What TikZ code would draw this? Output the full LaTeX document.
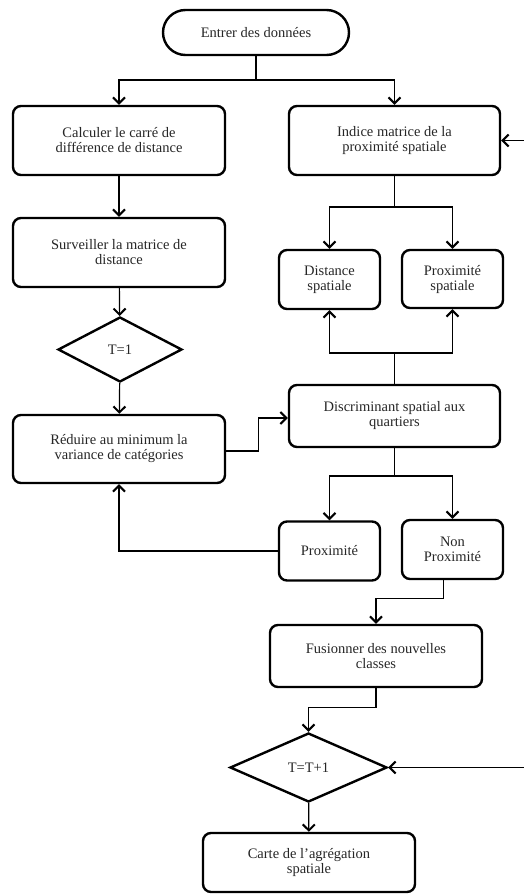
\documentclass[tikz,border=0pt]{standalone}
\usepackage{fontspec}
\setmainfont{Liberation Serif}
\usetikzlibrary{arrows.meta,shapes.geometric,shapes.misc}
\begin{document}
\begin{tikzpicture}[x=1pt,y=-1pt,
  txt/.style={text=black!85,font=\fontsize{14.5}{15}\selectfont},
  box/.style={draw,line width=2.4pt,rounded corners=8pt,align=center,inner sep=0pt,txt},
  dec/.style={draw,diamond,line width=2.4pt,aspect=2,inner sep=0pt,txt},
  ln/.style={line width=1.2pt},
  arr/.style={line width=1.2pt,-{Straight Barb[length=6pt,width=12pt,line width=2pt]}}]
\useasboundingbox (0,0) rectangle (524,894);
\node[draw,rounded rectangle,line width=2.4pt,minimum width=186pt,minimum height=45pt,inner sep=0pt,txt] (start) at (256,32.5) {Entrer des données};
\node[box,minimum width=212pt,minimum height=69pt] (calc) at (119,140.5) {Calculer le carré de\\différence de distance};
\node[box,minimum width=211pt,minimum height=69pt] (indice) at (394.5,140.5) {Indice matrice de la\\proximité spatiale};
\node[box,minimum width=212pt,minimum height=69pt] (surv) at (119,252.5) {Surveiller la matrice de\\distance};
\node[dec,minimum width=124pt,minimum height=65pt] (t1) at (120,349.5) {T=1};
\node[box,minimum width=212pt,minimum height=68pt] (red) at (119,449) {Réduire au minimum la\\variance de catégories};
\node[box,minimum width=101pt,minimum height=59pt] (dist) at (329.5,279.5) {Distance\\spatiale};
\node[box,minimum width=101pt,minimum height=58pt] (proxs) at (452.5,279) {Proximité\\spatiale};
\node[box,minimum width=211pt,minimum height=62pt] (discr) at (394.5,416) {Discriminant spatial aux\\quartiers};
\node[box,minimum width=101pt,minimum height=59pt] (prox) at (329.5,551) {Proximité};
\node[box,minimum width=101pt,minimum height=59pt] (nonprox) at (452.5,549.5) {Non\\Proximité};
\node[box,minimum width=212pt,minimum height=62pt] (fus) at (376,656) {Fusionner des nouvelles\\classes};
\node[dec,minimum width=157pt,minimum height=69pt] (tt1) at (308.5,767.5) {T=T+1};
\node[box,minimum width=212pt,minimum height=59pt] (carte) at (309,862.5) {Carte de l'agrégation\\spatiale};
\coordinate (j1) at (256,80);
\coordinate (j2) at (394.5,207);
\coordinate (j3) at (394.5,353);
\coordinate (j4) at (394.5,476);
\coordinate (e1) at (524,140.5);
\coordinate (e2) at (524,767.5);
\draw[ln] (start.south) -- (j1);
\draw[arr] (j1) -| (calc.north);
\draw[arr] (j1) -| (indice.north);
\draw[arr] (e1) -- (indice.east);
\draw[arr] (calc) -- (surv);
\draw[arr] (surv) -- (t1);
\draw[arr] (t1) -- (red);
\draw[ln] (indice.south) -- (j2);
\draw[arr] (j2) -| (dist.north);
\draw[arr] (j2) -| (proxs.north);
\draw[ln] (discr.north) -- (j3);
\draw[arr] (j3) -| (dist.south);
\draw[arr] (j3) -| (proxs.south);
\draw[arr] ([yshift=-2pt]red.east) -- ++(32,0) |- ([yshift=-2pt]discr.west);
\draw[ln] (discr.south) -- (j4);
\draw[arr] (j4) -| (prox.north);
\draw[arr] (j4) -| (nonprox.north);
\draw[arr] (prox.west) -| (red.south);
\draw[arr] ([xshift=-9pt]nonprox.south) -- ++(0,18) -| (fus.north);
\draw[arr] (fus.south) -- ++(0,19) -| (tt1.north);
\draw[arr] (e2) -- (tt1.east);
\draw[arr] (tt1) -- (carte);
\end{tikzpicture}
\end{document}
